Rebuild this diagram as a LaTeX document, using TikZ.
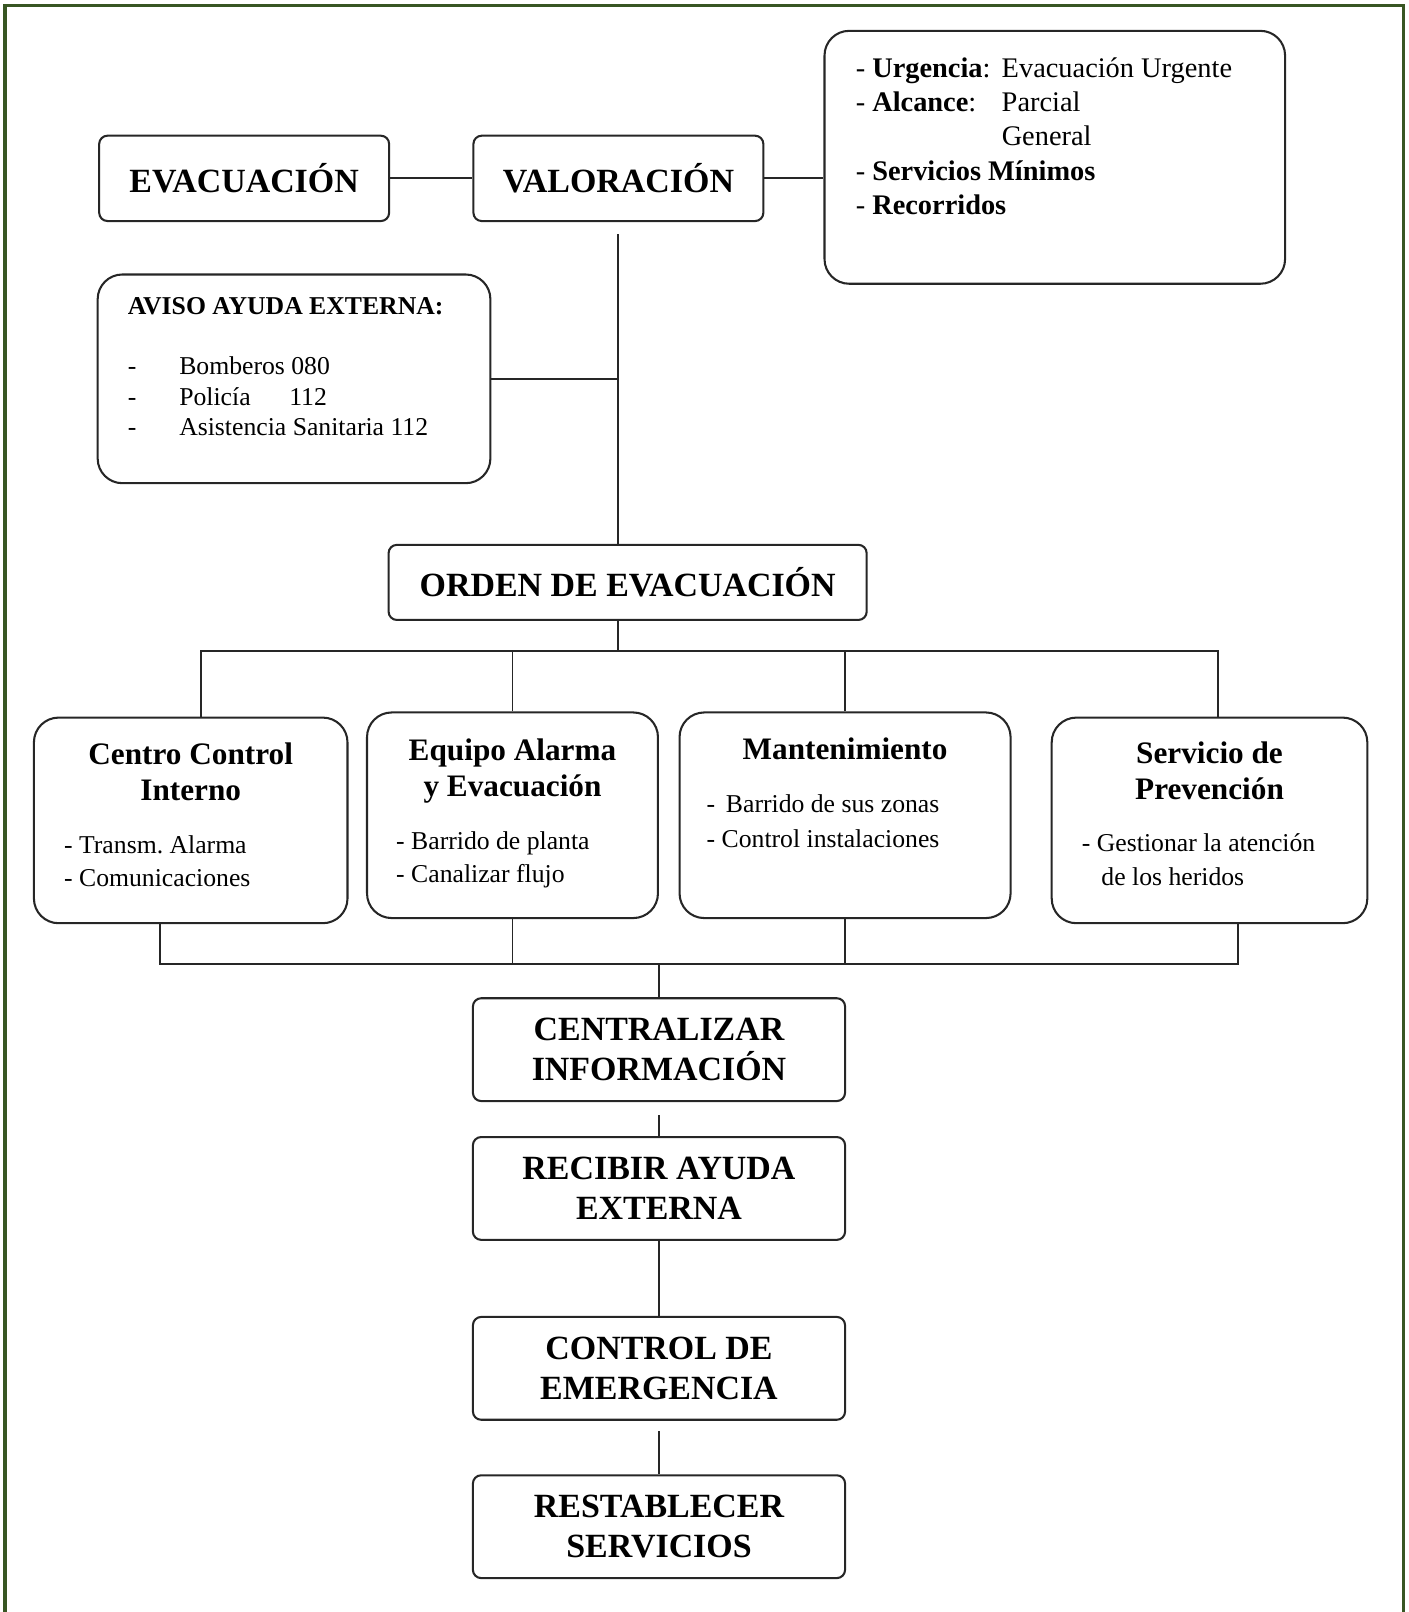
\documentclass[tikz,border=0pt]{standalone}
\usepackage{fontspec}
\setmainfont{Liberation Serif}
\usetikzlibrary{positioning}
\definecolor{framegreen}{RGB}{56,86,35}
\frenchspacing

\begin{document}
\begin{tikzpicture}[
        x=0.5pt, y=-0.5pt,
        box/.style={rectangle, draw=black!85, line width=1pt, fill=white, align=center, text=black},
        stage/.style={box, rounded corners=4pt, minimum width=141pt, minimum height=41.5pt, font=\fontsize{16.5}{19.5}\selectfont\bfseries},
        chain/.style={stage, minimum width=181pt, minimum height=50pt},
        panel/.style={box, rounded corners=12pt},
        title/.style={anchor=base, inner sep=0pt, font=\fontsize{15.2}{17.5}\selectfont\bfseries},
        items/.style={anchor=base west, inner sep=0pt, font=\fontsize{12.5}{16}\selectfont},
        link/.style={draw=black!85, line width=0.9pt},
        node distance=16.5pt,
        ]

        \useasboundingbox (0,0) rectangle (1370,1568);
        \draw[framegreen, line width=1.6pt] (5,1568) -- (5,5.5) -- (1365,5.5) -- (1365,1568);

        % Nodes
        \node[stage] (evac) at (237.5,173.5) {EVACUACIÓN};
        \node[stage, right=40pt of evac] (valor) {VALORACIÓN};

        \node[panel, minimum width=224pt, minimum height=123pt] (alcance) at (1026,153) {};
        \node[items, font=\fontsize{13.8}{16.75}\selectfont] (alcancetxt) at ([shift={(31,46)}]alcance.north west) {\begin{tabular}[t]{@{}l@{}}
            \makebox[71pt][l]{- \textbf{Urgencia}:}Evacuación Urgente\\
            \makebox[71pt][l]{- \textbf{Alcance}:}Parcial\\
            \hspace*{71pt}General\\
            - \textbf{Servicios Mínimos}\\
            - \textbf{Recorridos}
        \end{tabular}};

        \node[panel, minimum width=191pt, minimum height=101.5pt] (aviso) at (286,368.5) {};
        \node[items, font=\fontsize{12.5}{15}\selectfont] (avisotxt) at ([shift={(30,40)}]aviso.north west) {\begin{tabular}[t]{@{}l@{}}
            \textbf{AVISO AYUDA EXTERNA:}\\[14pt]
            \makebox[25pt][l]{-}Bomberos 080\\
            \makebox[25pt][l]{-}\makebox[53.5pt][l]{Policía}112\\
            \makebox[25pt][l]{-}Asistencia Sanitaria 112
        \end{tabular}};

        \node[stage, minimum width=232.5pt, minimum height=36.5pt] (orden) at (610.5,566.5) {ORDEN DE EVACUACIÓN};

        \node[panel, minimum width=152.5pt, minimum height=100pt] (centro) at (185.5,798) {};
        \node[title] (centrottl) at ([shift={(0,47)}]centro.north) {\begin{tabular}[t]{@{}c@{}}Centro Control\\Interno\end{tabular}};
        \node[items] (centroitm) at ([shift={(30,133)}]centro.north west) {\begin{tabular}[t]{@{}l@{}}- Transm. Alarma\\- Comunicaciones\end{tabular}};

        \node[panel, minimum width=141.5pt, minimum height=100pt] (equipo) at (498.5,793) {};
        \node[title] (equipottl) at ([shift={(0,48)}]equipo.north) {\begin{tabular}[t]{@{}c@{}}Equipo Alarma\\y Evacuación\end{tabular}};
        \node[items] (equipoitm) at ([shift={(29,134)}]equipo.north west) {\begin{tabular}[t]{@{}l@{}}- Barrido de planta\\- Canalizar flujo\end{tabular}};

        \node[panel, minimum width=161pt, minimum height=100pt] (mant) at (822,793) {};
        \node[title] (mantttl) at ([shift={(0,47)}]mant.north) {Mantenimiento};
        \node[items, font=\fontsize{12.5}{17}\selectfont] (mantitm) at ([shift={(27,98)}]mant.north west) {\begin{tabular}[t]{@{}l@{}}-\, Barrido de sus zonas\\- Control instalaciones\end{tabular}};

        \node[panel, minimum width=153.5pt, minimum height=100pt] (servicio) at (1176.5,798) {};
        \node[title] (servicottl) at ([shift={(0,46)}]servicio.north) {\begin{tabular}[t]{@{}c@{}}Servicio de\\Prevención\end{tabular}};
        \node[items, font=\fontsize{12.5}{16.5}\selectfont] (servicioitm) at ([shift={(30,131)}]servicio.north west) {\begin{tabular}[t]{@{}l@{}}- Gestionar la atención\\\hspace*{9.5pt}de los heridos\end{tabular}};

        \node[chain] (central) at (641,1021) {CENTRALIZAR\\INFORMACIÓN};
        \node[chain, below=16.5pt of central] (recibir) {RECIBIR AYUDA\\EXTERNA};
        \node[chain, below=36.5pt of recibir] (control) {CONTROL DE\\EMERGENCIA};
        \node[chain, below=26pt of control] (restab) {RESTABLECER\\SERVICIOS};

        % Connections
        \coordinate (bustop) at (valor.south |- 0,633);
        \coordinate (busbot) at (central.north |- 0,938);

        \draw[link] (evac) -- (valor);
        \draw[link] (valor.east) -- (valor.east -| alcance.west);
        \draw[link] ([yshift=-6pt]valor.south) -- (valor.south |- orden.north);
        \draw[link] (aviso.east) -- (aviso.east -| valor.south);
        \draw[link] (valor.south |- orden.south) -- (bustop);
        \draw[link] ([xshift=5pt]centro.north) |- (bustop) -| ([xshift=4pt]servicio.north);
        \draw[link] (equipo.north) -- (equipo.north |- bustop);
        \draw[link] (mant.north) -- (mant.north |- bustop);
        \draw[link] ([xshift=-15pt]centro.south) |- (busbot) -| ([xshift=14pt]servicio.south);
        \draw[link] (equipo.south) -- (equipo.south |- busbot);
        \draw[link] (mant.south) -- (mant.south |- busbot);
        \draw[link] (busbot) -- (central);
        \draw[link] ([yshift=-6.5pt]central.south) -- (recibir);
        \draw[link] (recibir) -- (control);
        \draw[link] ([yshift=-5pt]control.south) -- (restab);

    \end{tikzpicture}
\end{document}
